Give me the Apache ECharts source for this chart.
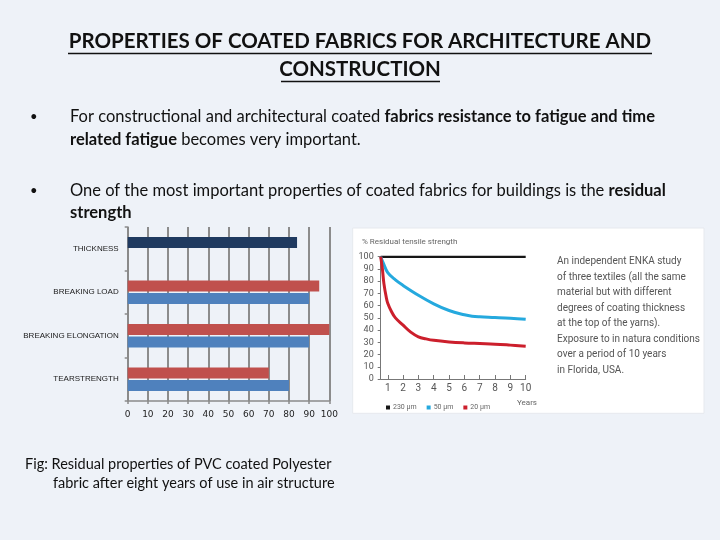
<!DOCTYPE html>
<html>
<head>
<meta charset="utf-8">
<script src="https://cdn.jsdelivr.net/npm/echarts@6/dist/echarts.min.js"></script>
<style>html,body{margin:0;padding:0;background:#eef2f8;}#c{width:720px;height:540px;}</style>
</head>
<body>
<div id="c"></div>
<script>
// ---- Bar chart data (residual properties, %) ----
const categories = ['THICKNESS', 'BREAKING LOAD', 'BREAKING ELONGATION', 'TEARSTRENGTH'];
const seriesTopValues = [84, 95, 100, 70];      // top bar of each pair (thickness drawn navy)
const seriesBottomValues = [null, 90, 90, 80];  // bottom bar of each pair
const barTicks = [0, 10, 20, 30, 40, 50, 60, 70, 80, 90, 100];

// ---- Line chart data (% residual tensile strength vs years) ----
const years230 = [0.54, 2, 4, 6, 8, 10];
const values230 = [100, 100, 100, 100, 100, 100];
const years50 = [0.54, 0.72, 1, 1.5, 2, 3, 4, 5, 6, 6.5, 7, 8, 9, 10];
const values50 = [100, 94.5, 87, 81, 76.5, 68.5, 61.5, 56, 52.5, 51.3, 50.8, 50.3, 49.7, 48.8];
const years20 = [0.54, 0.65, 0.75, 0.9, 1, 1.25, 1.5, 2, 2.5, 3, 3.5, 4, 5, 6, 7, 8, 9, 10];
const values20 = [100, 90, 78, 67, 62, 55, 50, 44, 38.3, 34.5, 32.8, 31.6, 30.3, 29.5, 29, 28.5, 27.7, 26.8];
const yearTicks = [1, 2, 3, 4, 5, 6, 7, 8, 9, 10];
const legendNames = ['230 µm', '50 µm', '20 µm'];

const zip = (xs, ys) => xs.map((x, i) => [x, ys[i]]);

const chart = echarts.init(document.getElementById('c'), null, { renderer: 'canvas' });

const slideFont = 'Lato, "Open Sans", sans-serif';
const textDark = '#111111';
const bodySize = 16.5;

const option = {
  backgroundColor: '#eef2f8',
  animation: false,
  legend: {
    data: legendNames,
    left: 381,
    top: 399,
    icon: 'rect',
    itemWidth: 4,
    itemHeight: 4,
    itemGap: 10,
    textStyle: { fontSize: 7, color: '#666', fontFamily: 'Roboto, sans-serif', padding: [0, 0, 0, -2] }
  },
  grid: [
    { left: 127.7, right: 720 - 329.3, top: 227, bottom: 540 - 401, containLabel: false },
    { left: 380.7, right: 720 - 525.7, top: 256.7, bottom: 540 - 379, containLabel: false }
  ],
  xAxis: [
    {
      gridIndex: 0, type: 'value', min: 0, max: 100, interval: 10,
      axisLine: { show: true, lineStyle: { color: '#8a8a8a', width: 1.5 } },
      axisTick: { show: true, length: 3, lineStyle: { color: '#8a8a8a', width: 1.5 } },
      axisLabel: { fontSize: 9, color: '#222', margin: 9, fontFamily: 'DejaVu Sans, sans-serif' },
      splitLine: { show: true, lineStyle: { color: '#8c8c8c', width: 2 } }
    },
    {
      gridIndex: 1, type: 'value', min: 0.54, max: 10,
      axisLine: { show: true, lineStyle: { color: '#777', width: 1 } },
      axisTick: { show: true, inside: true, length: 4, customValues: yearTicks, lineStyle: { color: '#777' } },
      axisLabel: { fontSize: 10, color: '#555', margin: 4, customValues: yearTicks, fontFamily: 'Roboto, sans-serif' },
      splitLine: { show: false }
    }
  ],
  yAxis: [
    {
      gridIndex: 0, type: 'category', data: categories, inverse: true,
      axisLine: { show: true, lineStyle: { color: '#8a8a8a', width: 1.5 } },
      axisTick: { show: true, length: 3, lineStyle: { color: '#8a8a8a', width: 1.5 } },
      axisLabel: { fontSize: 8, color: '#1a1a1a', margin: 9, fontFamily: 'Liberation Sans, Arial, sans-serif' },
      splitLine: { show: false }
    },
    {
      gridIndex: 1, type: 'value', min: 0, max: 100, interval: 10,
      axisLine: { show: true, lineStyle: { color: '#777', width: 1 } },
      axisTick: { show: true, length: 3, lineStyle: { color: '#777' } },
      axisLabel: { fontSize: 9, color: '#555', margin: 7, fontFamily: 'Roboto, sans-serif' },
      splitLine: { show: false }
    }
  ],
  series: [
    {
      name: 'Top', type: 'bar', xAxisIndex: 0, yAxisIndex: 0,
      barWidth: 11, barGap: '14%',
      data: seriesTopValues.map((v, i) => i === 0 ? { value: v, itemStyle: { color: '#1f3a60' } } : v),
      itemStyle: { color: '#c0504d' }
    },
    {
      name: 'Bottom', type: 'bar', xAxisIndex: 0, yAxisIndex: 0,
      barWidth: 11, barGap: '14%',
      data: seriesBottomValues,
      itemStyle: { color: '#4f81bd' }
    },
    {
      name: legendNames[0], type: 'line', xAxisIndex: 1, yAxisIndex: 1,
      data: zip(years230, values230), showSymbol: false, smooth: true,
      lineStyle: { color: '#161616', width: 2.5 }, itemStyle: { color: '#161616' }
    },
    {
      name: legendNames[1], type: 'line', xAxisIndex: 1, yAxisIndex: 1,
      data: zip(years50, values50), showSymbol: false, smooth: 0.4,
      lineStyle: { color: '#25a9de', width: 3 }, itemStyle: { color: '#25a9de' }
    },
    {
      name: legendNames[2], type: 'line', xAxisIndex: 1, yAxisIndex: 1,
      data: zip(years20, values20), showSymbol: false, smooth: 0.4,
      lineStyle: { color: '#cc1f2c', width: 3 }, itemStyle: { color: '#cc1f2c' }
    }
  ],
  graphic: {
    elements: [
      { type: 'rect', z: -10, shape: { x: 352.7, y: 228, width: 351.3, height: 185.3 },
        style: { fill: '#ffffff', stroke: '#e6e9ee', lineWidth: 1 } },
      // Title
      { type: 'text', left: 'center', top: 31, z: 10,
        style: { text: 'PROPERTIES OF COATED FABRICS FOR ARCHITECTURE AND', fontFamily: slideFont, fontWeight: 'bold', fontSize: 20.5, fill: textDark } },
      { type: 'text', left: 'center', top: 59, z: 10,
        style: { text: 'CONSTRUCTION', fontFamily: slideFont, fontWeight: 'bold', fontSize: 20.5, fill: textDark } },
      { type: 'line', z: 10, shape: { x1: 68, y1: 53.5, x2: 652, y2: 53.5 }, style: { stroke: textDark, lineWidth: 1.5 } },
      { type: 'line', z: 10, shape: { x1: 281, y1: 81.5, x2: 440, y2: 81.5 }, style: { stroke: textDark, lineWidth: 1.5 } },
      // Bullets
      { type: 'text', left: 30, top: 110, style: { text: '•', fontSize: 13, fill: textDark, fontFamily: slideFont } },
      { type: 'text', left: 30, top: 184, style: { text: '•', fontSize: 13, fill: textDark, fontFamily: slideFont } },
      { type: 'text', left: 70, top: 108,
        style: {
          text: '{n|For constructional and architectural coated }{b|fabrics resistance to fatigue and time}\n{b|related fatigue}{n| becomes very important.}',
          rich: {
            n: { fontFamily: slideFont, fontSize: bodySize, fill: textDark, lineHeight: 23 },
            b: { fontFamily: slideFont, fontSize: bodySize, fontWeight: 'bold', fill: textDark, lineHeight: 23 }
          }
        } },
      { type: 'text', left: 70, top: 182,
        style: {
          text: '{n|One of the most important properties of coated fabrics for buildings is the }{b|residual}\n{b|strength}',
          rich: {
            n: { fontFamily: slideFont, fontSize: bodySize, fill: textDark, lineHeight: 22 },
            b: { fontFamily: slideFont, fontSize: bodySize, fontWeight: 'bold', fill: textDark, lineHeight: 22 }
          }
        } },
      // Line chart captions
      { type: 'text', left: 362, top: 238, style: { text: '% Residual tensile strength', fontSize: 8, fill: '#666', fontFamily: 'Roboto, sans-serif' } },
      { type: 'text', left: 517, top: 399, style: { text: 'Years', fontSize: 8, fill: '#666', fontFamily: 'Roboto, sans-serif' } },
      { type: 'text', left: 557, top: 254,
        style: {
          text: 'An independent ENKA study\nof three textiles (all the same\nmaterial but with different\ndegrees of coating thickness\nat the top of the yarns).\nExposure to in natura conditions\nover a period of 10 years\nin Florida, USA.',
          fontFamily: 'Roboto, sans-serif', fontSize: 10, lineHeight: 15.5, fill: '#555'
        } },
      // Figure caption
      { type: 'text', left: 25, top: 457,
        style: { text: 'Fig: Residual properties of PVC coated Polyester', fontFamily: slideFont, fontSize: 14.5, fill: textDark } },
      { type: 'text', left: 53, top: 476,
        style: { text: 'fabric after eight years of use in air structure', fontFamily: slideFont, fontSize: 14.5, fill: textDark } }
    ]
  }
};
chart.setOption(option);
</script>
</body>
</html>
